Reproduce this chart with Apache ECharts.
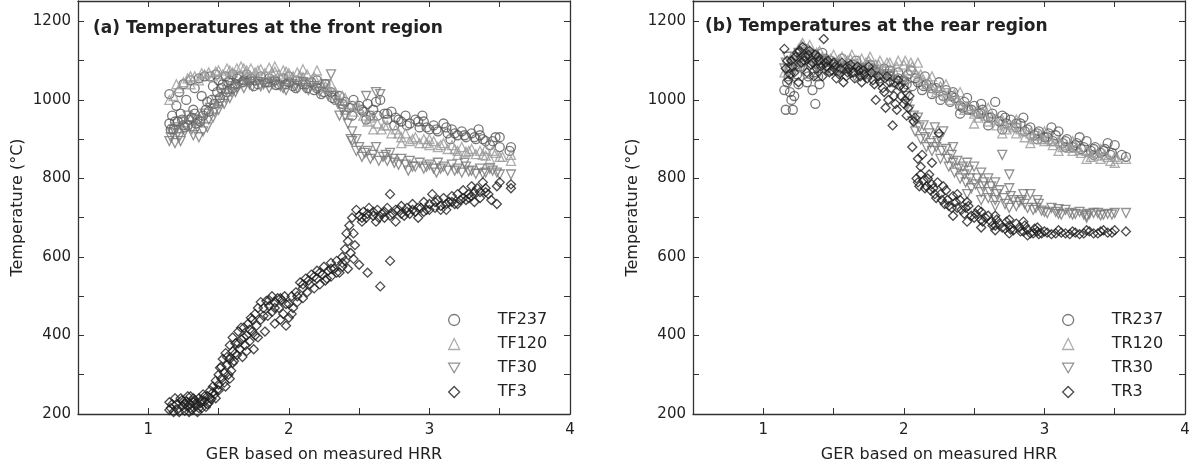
<!DOCTYPE html>
<html>
<head>
<meta charset="utf-8">
<title>Temperatures vs GER</title>
<script src="https://cdn.jsdelivr.net/npm/echarts@6.0.0/dist/echarts.min.js"></script>
<style>
  html, body { margin: 0; padding: 0; background: #fff; }
  #chart { width: 1203px; height: 468px; }
</style>
</head>
<body>
<div id="chart"></div>
<script>
// ---- data (x = GER, y = temperature in °C) ----
var xTicks = [1, 2, 3, 4];
var yTicks = [200, 400, 600, 800, 1000, 1200];

var frontNames = ['TF237', 'TF120', 'TF30', 'TF3'];
var rearNames = ['TR237', 'TR120', 'TR30', 'TR3'];

var TF237 = [[1.15,1015],[1.15,940],[1.17,960],[1.18,925],[1.2,985],[1.21,945],[1.22,1020],[1.24,950],[1.25,1040],[1.26,930],[1.27,1000],[1.28,935],[1.3,1050],[1.31,955],[1.32,975],[1.33,1030],[1.34,940],[1.35,950],[1.36,1055],[1.38,1010],[1.39,960],[1.4,1060],[1.42,995],[1.43,970],[1.44,1060],[1.46,1035],[1.47,990],[1.48,1065],[1.5,1050],[1.51,1005],[1.52,1030],[1.55,1060],[1.56,1020],[1.57,1045],[1.6,1065],[1.62,1040],[1.65,1060],[1.68,1050],[1.7,1065],[1.73,1055],[1.76,1050],[1.8,1060],[1.83,1045],[1.86,1055],[1.9,1050],[1.93,1040],[1.96,1055],[2.0,1045],[2.03,1035],[2.06,1050],[2.1,1040],[2.13,1030],[2.16,1045],[2.2,1030],[2.23,1015],[2.26,1040],[2.3,1020],[2.33,1000],[2.36,1010],[2.4,995],[2.43,980],[2.46,1000],[2.5,985],[2.53,970],[2.56,990],[2.6,975],[2.63,960],[2.65,1000],[2.68,965],[2.7,950],[2.73,970],[2.76,955],[2.8,945],[2.83,960],[2.86,940],[2.9,950],[2.93,930],[2.96,945],[3.0,925],[3.03,935],[3.06,920],[3.1,940],[3.13,915],[3.16,925],[3.2,910],[3.23,920],[3.26,905],[3.3,915],[3.33,900],[3.36,910],[3.4,895],[3.43,885],[3.47,905],[3.5,880],[3.58,880],
  [1.16,925],[1.19,945],[1.23,965],[1.25,935],[1.29,950],[1.33,965],[1.37,945],[1.41,975],[1.45,1000],[1.49,1020],[1.53,1040],[1.58,1050],[1.63,1055],[1.67,1045],[1.72,1050],[1.78,1040],[1.85,1045],[1.91,1038],[1.98,1040],[2.05,1030],[2.12,1040],[2.18,1025],[2.25,1020],[2.31,1005],[2.38,990],[2.45,985],[2.52,975],[2.58,960],[2.62,995],[2.7,965],[2.78,950],[2.84,935],[2.92,945],[2.98,930],[3.05,925],[3.12,930],[3.18,915],[3.25,910],[3.32,905],[3.38,900],[3.45,895],[3.5,905],[3.57,870],
  [1.6,1030],[1.75,1035],[2.0,1060],[2.2,1050],[2.45,960],[2.55,950],[2.75,935],[2.95,960],[3.15,900],[3.35,925]];
var TF120 = [[1.15,1000],[1.18,1010],[1.22,1030],[1.25,1045],[1.28,1055],[1.3,1040],[1.33,1060],[1.36,1050],[1.4,1065],[1.43,1070],[1.46,1060],[1.5,1075],[1.53,1065],[1.56,1080],[1.6,1070],[1.63,1080],[1.66,1085],[1.7,1075],[1.73,1080],[1.76,1070],[1.8,1078],[1.83,1068],[1.86,1082],[1.9,1072],[1.93,1065],[1.96,1075],[2.0,1068],[2.03,1060],[2.06,1070],[2.1,1058],[2.13,1065],[2.16,1050],[2.2,1075],[2.23,1045],[2.26,1035],[2.3,1040],[2.33,1020],[2.36,1000],[2.4,1005],[2.43,990],[2.46,970],[2.5,980],[2.53,960],[2.56,945],[2.6,960],[2.63,940],[2.66,925],[2.7,935],[2.73,915],[2.76,925],[2.8,905],[2.83,915],[2.86,895],[2.9,905],[2.93,890],[2.96,900],[3.0,885],[3.03,895],[3.06,880],[3.1,890],[3.13,875],[3.16,885],[3.2,870],[3.23,880],[3.26,868],[3.3,875],[3.33,862],[3.36,870],[3.4,858],[3.43,850],[3.47,865],[3.5,855],[3.58,845],[3.58,860],
  [1.2,1040],[1.3,1060],[1.38,1068],[1.48,1072],[1.58,1075],[1.68,1080],[1.78,1075],[1.88,1070],[1.98,1072],[2.08,1062],[2.18,1058],[2.28,1030],[2.38,1010],[2.48,985],[2.58,955],[2.68,935],[2.78,915],[2.88,900],[2.98,890],[3.08,885],[3.18,875],[3.28,870],[3.38,860],[3.45,870],[3.52,855],
  [1.7,1060],[1.9,1085],[2.1,1078],[2.4,975],[2.6,925],[2.8,890],[3.0,900],[3.2,860],[3.4,875]];
var TF30 = [[1.15,895],[1.17,915],[1.19,890],[1.2,930],[1.22,905],[1.24,945],[1.26,920],[1.28,960],[1.3,935],[1.32,910],[1.34,950],[1.36,905],[1.38,945],[1.4,965],[1.42,930],[1.44,980],[1.46,955],[1.48,1000],[1.5,975],[1.52,1015],[1.54,990],[1.56,1025],[1.58,1005],[1.6,1035],[1.62,1020],[1.65,1040],[1.68,1030],[1.7,1045],[1.74,1035],[1.78,1045],[1.82,1040],[1.86,1030],[1.9,1045],[1.94,1035],[1.98,1025],[2.02,1040],[2.06,1030],[2.1,1045],[2.14,1025],[2.18,1035],[2.22,1020],[2.26,1040],[2.3,1065],[2.32,1010],[2.35,990],[2.38,975],[2.4,960],[2.42,940],[2.45,920],[2.48,900],[2.5,880],[2.52,855],[2.55,1010],[2.56,870],[2.6,860],[2.62,1020],[2.65,1015],[2.67,855],[2.7,845],[2.72,865],[2.75,840],[2.8,850],[2.83,835],[2.86,845],[2.9,830],[2.93,840],[2.96,825],[3.0,835],[3.03,825],[3.06,840],[3.1,830],[3.13,820],[3.16,835],[3.2,825],[3.23,815],[3.26,830],[3.3,820],[3.33,812],[3.36,825],[3.4,815],[3.45,820],[3.5,810],[3.58,810],
  [1.16,905],[1.18,925],[1.21,915],[1.23,895],[1.27,935],[1.31,925],[1.35,930],[1.39,920],[1.43,950],[1.47,970],[1.51,990],[1.55,1005],[1.59,1020],[1.63,1030],[1.72,1040],[1.8,1035],[1.88,1040],[1.96,1030],[2.04,1035],[2.12,1030],[2.2,1030],[2.28,1010],[2.36,960],[2.44,900],[2.48,870],[2.54,865],[2.58,850],[2.64,845],[2.69,860],[2.74,850],[2.78,835],[2.88,830],[2.98,830],[3.08,825],[3.18,820],[3.28,818],[3.38,812],[3.43,825],[3.48,815],
  [2.45,895],[2.62,880],[2.85,820],[3.05,815],[3.25,840]];
var TF3 = [[1.15,230],[1.16,215],[1.18,205],[1.2,225],[1.21,212],[1.23,240],[1.24,220],[1.25,232],[1.26,208],[1.27,232],[1.28,218],[1.29,205],[1.3,245],[1.3,225],[1.31,210],[1.32,230],[1.33,235],[1.34,220],[1.35,205],[1.36,240],[1.37,228],[1.38,215],[1.39,250],[1.4,232],[1.41,218],[1.42,245],[1.43,228],[1.44,260],[1.45,238],[1.46,270],[1.47,250],[1.48,285],[1.49,262],[1.5,300],[1.5,275],[1.51,318],[1.52,290],[1.53,340],[1.54,305],[1.55,270],[1.55,355],[1.56,325],[1.57,300],[1.58,375],[1.58,340],[1.59,310],[1.6,360],[1.6,395],[1.61,335],[1.62,380],[1.63,350],[1.64,410],[1.65,365],[1.66,390],[1.67,345],[1.68,420],[1.69,375],[1.7,400],[1.71,430],[1.72,385],[1.73,445],[1.74,410],[1.75,365],[1.76,455],[1.77,425],[1.78,395],[1.8,485],[1.8,440],[1.82,470],[1.83,410],[1.84,488],[1.85,450],[1.86,475],[1.88,500],[1.88,460],[1.9,485],[1.9,430],[1.92,495],[1.93,470],[1.94,440],[1.95,490],[1.96,455],[1.97,500],[1.98,425],[2.0,480],[2.0,445],[2.02,500],[2.03,470],[2.05,510],[2.06,485],[2.08,535],[2.1,520],[2.1,495],[2.12,545],[2.13,510],[2.15,530],[2.16,555],[2.18,520],[2.2,545],[2.2,565],[2.22,530],[2.24,555],[2.25,575],[2.27,545],[2.28,565],[2.3,585],[2.3,550],[2.32,570],[2.34,590],[2.36,560],[2.38,600],[2.38,575],[2.4,620],[2.4,590],[2.41,660],[2.42,640],[2.43,680],[2.44,610],[2.45,700],[2.46,660],[2.47,630],[2.48,720],[2.5,705],[2.5,580],[2.52,690],[2.53,715],[2.55,700],[2.56,560],[2.57,725],[2.6,705],[2.62,690],[2.63,720],[2.65,525],[2.66,710],[2.68,700],[2.7,725],[2.72,590],[2.72,760],[2.74,710],[2.76,690],[2.78,720],[2.8,730],[2.82,705],[2.84,725],[2.86,710],[2.88,735],[2.9,715],[2.92,700],[2.94,725],[2.96,740],[2.98,720],[3.0,735],[3.02,760],[3.04,725],[3.06,745],[3.08,730],[3.1,750],[3.12,720],[3.14,740],[3.16,755],[3.18,735],[3.2,760],[3.22,745],[3.24,770],[3.26,745],[3.28,760],[3.3,780],[3.3,755],[3.32,740],[3.34,775],[3.36,765],[3.38,790],[3.4,775],[3.42,760],[3.48,735],[3.48,780],[3.5,790],[3.58,775],[3.58,785],
  [1.15,210],[1.17,225],[1.19,240],[1.22,205],[1.24,235],[1.26,225],[1.28,245],[1.3,215],[1.32,240],[1.34,228],[1.36,215],[1.38,235],[1.4,245],[1.42,225],[1.44,240],[1.46,255],[1.48,240],[1.5,260],[1.52,320],[1.54,280],[1.56,345],[1.58,290],[1.6,330],[1.62,355],[1.64,380],[1.66,420],[1.68,395],[1.7,360],[1.72,415],[1.74,440],[1.76,400],[1.78,470],[1.82,450],[1.86,490],[1.9,470],[1.94,495],[1.98,480],[2.02,455],[2.06,500],[2.1,530],[2.14,540],[2.18,550],[2.22,560],[2.26,540],[2.3,570],[2.34,560],[2.38,585],[2.42,570],[2.46,595],[2.52,700],[2.56,710],[2.6,715],[2.64,700],[2.68,715],[2.72,705],[2.76,720],[2.8,710],[2.84,715],[2.88,720],[2.92,725],[2.96,715],[3.0,720],[3.04,740],[3.08,720],[3.12,735],[3.16,740],[3.2,735],[3.24,750],[3.28,750],[3.32,765],[3.36,750],[3.4,765],[3.44,745]];

var TR237 = [[1.15,1025],[1.16,975],[1.18,1060],[1.2,1000],[1.21,975],[1.23,1090],[1.25,1040],[1.27,1110],[1.3,1130],[1.32,1060],[1.35,1025],[1.37,990],[1.38,1100],[1.4,1040],[1.42,1120],[1.45,1080],[1.48,1100],[1.5,1090],[1.53,1075],[1.56,1105],[1.6,1085],[1.63,1070],[1.66,1100],[1.7,1080],[1.73,1065],[1.76,1090],[1.8,1070],[1.83,1055],[1.86,1080],[1.9,1060],[1.93,1045],[1.96,1070],[2.0,1050],[2.03,1065],[2.06,1035],[2.1,1045],[2.13,1025],[2.16,1040],[2.2,1015],[2.23,1030],[2.26,1000],[2.3,1025],[2.33,995],[2.36,1005],[2.4,985],[2.43,995],[2.46,975],[2.5,985],[2.53,965],[2.56,975],[2.6,955],[2.63,965],[2.65,995],[2.68,945],[2.7,960],[2.73,940],[2.76,950],[2.8,930],[2.83,940],[2.86,920],[2.9,930],[2.93,910],[2.96,920],[3.0,905],[3.03,915],[3.06,895],[3.1,920],[3.13,890],[3.16,900],[3.2,880],[3.23,890],[3.26,875],[3.3,895],[3.33,870],[3.36,880],[3.4,865],[3.43,875],[3.47,860],[3.5,885],[3.58,855],
  [1.17,1045],[1.19,1020],[1.22,1010],[1.24,1065],[1.26,1085],[1.29,1100],[1.31,1045],[1.34,1115],[1.36,1070],[1.39,1060],[1.41,1095],[1.44,1105],[1.47,1075],[1.52,1095],[1.58,1080],[1.64,1090],[1.7,1070],[1.78,1080],[1.84,1065],[1.9,1075],[1.96,1055],[2.02,1040],[2.08,1055],[2.14,1035],[2.2,1030],[2.28,1010],[2.34,1010],[2.42,980],[2.48,975],[2.55,965],[2.62,955],[2.72,955],[2.8,940],[2.88,925],[2.95,915],[3.02,905],[3.08,910],[3.15,895],[3.22,885],[3.28,880],[3.35,875],[3.42,870],[3.48,865],[3.55,860],
  [2.25,1045],[2.35,1020],[2.45,1005],[2.55,990],[2.6,935],[2.7,925],[2.85,955],[2.95,900],[3.05,930],[3.15,880],[3.25,905],[3.35,860],[3.45,890],[2.4,965],[2.15,1060],[2.05,1075]];
var TR120 = [[1.15,1070],[1.2,1100],[1.25,1130],[1.28,1145],[1.3,1120],[1.33,1140],[1.36,1110],[1.4,1125],[1.45,1100],[1.5,1115],[1.53,1095],[1.56,1110],[1.6,1100],[1.63,1115],[1.66,1090],[1.7,1105],[1.73,1095],[1.76,1110],[1.8,1090],[1.83,1100],[1.86,1080],[1.9,1095],[1.93,1075],[1.96,1100],[2.0,1090],[2.03,1075],[2.06,1085],[2.1,1060],[2.13,1050],[2.16,1040],[2.2,1030],[2.23,1020],[2.26,1035],[2.3,1010],[2.33,1000],[2.36,1015],[2.4,990],[2.43,975],[2.46,985],[2.5,965],[2.53,955],[2.56,970],[2.6,945],[2.63,955],[2.66,935],[2.7,950],[2.73,925],[2.76,935],[2.8,915],[2.83,925],[2.86,905],[2.9,915],[2.93,900],[2.96,910],[3.0,895],[3.03,900],[3.06,885],[3.1,895],[3.13,880],[3.16,885],[3.2,870],[3.23,880],[3.26,865],[3.3,870],[3.33,855],[3.36,865],[3.4,850],[3.43,860],[3.47,845],[3.5,855],[3.58,850],
  [1.18,1085],[1.22,1115],[1.27,1140],[1.32,1130],[1.38,1120],[1.42,1110],[1.48,1105],[1.55,1100],[1.62,1105],[1.68,1100],[1.75,1100],[1.82,1090],[1.88,1095],[1.95,1085],[2.01,1100],[2.05,1095],[2.08,1070],[2.12,1065],[2.18,1050],[2.25,1025],[2.32,1015],[2.38,1000],[2.45,980],[2.52,970],[2.58,960],[2.65,950],[2.72,940],[2.78,930],[2.85,920],[2.92,910],[2.98,900],[3.05,895],[3.12,890],[3.18,878],[3.25,872],[3.32,868],[3.38,858],[3.45,855],[3.52,850],
  [2.1,1095],[2.2,1060],[2.3,1040],[2.4,1020],[2.5,940],[2.6,980],[2.7,915],[2.8,950],[2.9,890],[3.0,920],[3.1,870],[3.2,895],[3.3,850],[3.4,875],[3.5,840]];
var TR30 = [[1.15,1080],[1.17,1110],[1.2,1060],[1.22,1095],[1.25,1120],[1.28,1075],[1.3,1105],[1.33,1085],[1.36,1115],[1.4,1070],[1.43,1095],[1.46,1080],[1.5,1090],[1.55,1070],[1.6,1085],[1.65,1060],[1.7,1080],[1.75,1065],[1.8,1070],[1.85,1055],[1.9,1060],[1.95,1040],[2.0,1045],[2.02,1010],[2.04,975],[2.06,945],[2.08,920],[2.1,955],[2.12,900],[2.14,935],[2.16,880],[2.18,915],[2.2,870],[2.22,930],[2.24,895],[2.26,850],[2.28,920],[2.3,875],[2.32,830],[2.34,860],[2.36,815],[2.38,845],[2.4,800],[2.42,830],[2.44,790],[2.46,820],[2.48,775],[2.5,830],[2.52,800],[2.55,765],[2.57,790],[2.6,750],[2.62,780],[2.65,745],[2.68,770],[2.7,860],[2.72,735],[2.75,810],[2.76,755],[2.8,730],[2.84,745],[2.88,725],[2.9,760],[2.92,720],[2.96,735],[3.0,715],[3.05,725],[3.1,710],[3.15,720],[3.2,708],[3.25,715],[3.3,705],[3.35,712],[3.4,706],[3.45,710],[3.5,712],[3.58,712],
  [1.16,1095],[1.19,1075],[1.24,1100],[1.27,1090],[1.32,1110],[1.35,1095],[1.38,1085],[1.42,1100],[1.48,1090],[1.52,1075],[1.58,1080],[1.62,1070],[1.68,1075],[1.72,1060],[1.78,1075],[1.82,1060],[1.88,1065],[1.92,1050],[1.98,1035],[2.03,990],[2.07,960],[2.11,930],[2.15,905],[2.19,890],[2.23,880],[2.27,870],[2.31,850],[2.35,840],[2.39,825],[2.43,810],[2.47,800],[2.51,785],[2.56,780],[2.61,765],[2.66,760],[2.71,750],[2.78,745],[2.82,740],[2.86,735],[2.94,725],[2.98,718],[3.02,712],[3.08,715],[3.12,708],[3.18,712],[3.22,710],[3.28,708],[3.32,710],[3.38,712],[3.42,708],[3.48,708],
  [2.25,905],[2.35,880],[2.45,840],[2.55,815],[2.6,800],[2.65,790],[2.75,775],[2.85,760],[2.95,745],[2.45,760],[2.55,745],[2.65,730],[2.75,725],[3.1,722],[3.3,700]];
var TR3 = [[1.15,1130],[1.16,1080],[1.18,1050],[1.2,1100],[1.22,1070],[1.24,1120],[1.25,1045],[1.27,1095],[1.28,1135],[1.3,1110],[1.31,1070],[1.33,1125],[1.34,1090],[1.36,1060],[1.37,1115],[1.38,1080],[1.4,1100],[1.42,1060],[1.43,1155],[1.45,1085],[1.47,1070],[1.5,1095],[1.52,1055],[1.55,1080],[1.57,1045],[1.6,1070],[1.62,1090],[1.65,1055],[1.68,1075],[1.7,1045],[1.72,1065],[1.75,1085],[1.78,1050],[1.8,1000],[1.82,1060],[1.85,1030],[1.87,980],[1.9,1045],[1.92,935],[1.93,1010],[1.95,975],[1.97,1035],[2.0,990],[2.02,960],[2.04,1010],[2.06,880],[2.08,955],[2.1,850],[2.1,790],[2.12,810],[2.13,860],[2.15,775],[2.17,800],[2.2,785],[2.2,840],[2.22,760],[2.24,790],[2.25,915],[2.27,745],[2.3,770],[2.32,730],[2.35,755],[2.38,725],[2.4,745],[2.43,710],[2.46,730],[2.5,700],[2.53,720],[2.56,690],[2.6,705],[2.63,680],[2.66,695],[2.7,675],[2.73,690],[2.76,670],[2.8,685],[2.83,665],[2.86,680],[2.9,660],[2.93,672],[2.96,658],[3.0,665],[3.05,658],[3.1,668],[3.15,660],[3.2,665],[3.25,658],[3.3,668],[3.35,660],[3.4,665],[3.45,662],[3.5,668],[3.58,665],
  [1.17,1100],[1.19,1065],[1.21,1085],[1.23,1110],[1.26,1125],[1.29,1100],[1.32,1115],[1.35,1095],[1.39,1110],[1.41,1085],[1.44,1095],[1.46,1100],[1.49,1075],[1.51,1085],[1.54,1065],[1.56,1095],[1.59,1060],[1.61,1080],[1.64,1070],[1.67,1085],[1.69,1060],[1.71,1075],[1.74,1055],[1.77,1070],[1.79,1040],[1.83,1045],[1.86,1020],[1.89,1000],[1.91,1030],[1.94,990],[1.98,1010],[2.01,1000],[2.03,980],[2.07,945],[2.09,800],[2.11,780],[2.14,795],[2.16,780],[2.19,770],[2.21,775],[2.23,750],[2.26,760],[2.29,735],[2.31,745],[2.34,725],[2.37,740],[2.41,720],[2.44,725],[2.48,705],[2.51,710],[2.55,695],[2.58,700],[2.62,690],[2.65,680],[2.68,685],[2.72,672],[2.75,680],[2.78,668],[2.82,675],[2.85,665],[2.88,670],[2.92,660],[2.95,665],[2.98,660],[3.02,662],[3.08,660],[3.12,662],[3.18,658],[3.22,662],[3.28,660],[3.32,665],[3.38,660],[3.42,668],[3.48,662],
  [2.12,830],[2.18,810],[2.28,780],[2.38,760],[2.45,740],[2.55,715],[2.65,705],[2.75,695],[2.85,690],[2.95,675],[2.35,705],[2.45,690],[2.55,675],[2.65,668],[2.75,660],[2.88,655],[1.88,1060],[1.96,1050],[2.0,1030]];

var chart = echarts.init(document.getElementById('chart'));

var FONT = 'DejaVu Sans';
var INK = '#222';
var DOWN_TRI = 'path://M0,0L10,0L5,8.7Z';

// hollow marker look for each of the four probes
var markStyle = [
  { symbol: 'circle',   rotate: 0,   icon: 'circle',   color: '#555' },
  { symbol: 'triangle', rotate: 0,   icon: 'triangle', color: '#9a9a9a' },
  { symbol: 'triangle', rotate: 180, icon: DOWN_TRI,   color: '#777' },
  { symbol: 'diamond',  rotate: 0,   icon: 'diamond',  color: '#1e1e1e' }
];

function xAxisFor(grid, pos) {
  var bottom = pos === 'bottom';
  return {
    type: 'value', gridIndex: grid, position: pos,
    min: 0.5, max: 4, interval: 0.5,
    name: bottom ? 'GER based on measured HRR' : '',
    nameLocation: 'middle', nameGap: 33,
    nameTextStyle: { fontFamily: FONT, fontSize: 16, color: INK },
    axisLine: { show: true, onZero: false, lineStyle: { color: '#333', width: 1.3 } },
    axisTick: { show: true, inside: true, length: 6, lineStyle: { color: '#333' } },
    axisLabel: {
      show: bottom, margin: 9, fontFamily: FONT, fontSize: 15, color: INK,
      formatter: function (v) { return xTicks.indexOf(v) >= 0 ? String(v) : ''; }
    },
    splitLine: { show: false }
  };
}

function yAxisFor(grid, pos) {
  var left = pos === 'left';
  return {
    type: 'value', gridIndex: grid, position: pos,
    min: 200, max: 1252, interval: 100,
    name: left ? 'Temperature (°C)' : '',
    nameLocation: 'middle', nameGap: 52,
    nameTextStyle: { fontFamily: FONT, fontSize: 16, color: INK },
    axisLine: { show: true, onZero: false, lineStyle: { color: '#333', width: 1.3 } },
    axisTick: { show: true, inside: true, length: 6, lineStyle: { color: '#333' } },
    axisLabel: {
      show: left, margin: 7, fontFamily: FONT, fontSize: 15, color: INK,
      showMaxLabel: false,
      formatter: function (v) { return yTicks.indexOf(v) >= 0 ? String(v) : ''; }
    },
    splitLine: { show: false }
  };
}

function makeSeries(names, sets, axisIdx) {
  var out = [];
  for (var i = 0; i < names.length; i++) {
    out.push({
      name: names[i],
      type: 'scatter',
      xAxisIndex: axisIdx,
      yAxisIndex: axisIdx,
      symbol: markStyle[i].symbol,
      symbolRotate: markStyle[i].rotate,
      symbolSize: 9,
      data: sets[i],
      itemStyle: {
        color: 'rgba(255,255,255,0)',
        borderColor: markStyle[i].color,
        borderWidth: 1.3
      },
      emphasis: { disabled: true }
    });
  }
  return out;
}

function legendFor(names, left) {
  var items = names.map(function (n, i) { return { name: n, icon: markStyle[i].icon }; });
  return {
    data: items,
    orient: 'vertical',
    left: left, top: 307,
    itemWidth: 11, itemHeight: 11, itemGap: 8,
    itemStyle: { color: 'rgba(255,255,255,0)', borderWidth: 1.3 },
    textStyle: { fontFamily: FONT, fontSize: 16, color: INK, lineHeight: 16, padding: [0, 0, 0, 33] },
    selectedMode: false
  };
}

chart.setOption({
  animation: false,
  backgroundColor: '#fff',
  title: [
    { text: '(a) Temperatures at the front region', left: 88, top: 15,
      textStyle: { fontFamily: FONT, fontSize: 17, fontWeight: 'bold', color: INK } },
    { text: '(b) Temperatures at the rear region', left: 700, top: 13,
      textStyle: { fontFamily: FONT, fontSize: 17, fontWeight: 'bold', color: INK } }
  ],
  grid: [
    { left: 78, right: 633, top: 1, bottom: 48 },
    { left: 693, right: 18, top: 1, bottom: 48 }
  ],
  xAxis: [xAxisFor(0, 'bottom'), xAxisFor(0, 'top'), xAxisFor(1, 'bottom'), xAxisFor(1, 'top')],
  yAxis: [yAxisFor(0, 'left'), yAxisFor(0, 'right'), yAxisFor(1, 'left'), yAxisFor(1, 'right')],
  legend: [legendFor(frontNames, 443), legendFor(rearNames, 1057)],
  series: makeSeries(frontNames, [TF237, TF120, TF30, TF3], 0)
    .concat(makeSeries(rearNames, [TR237, TR120, TR30, TR3], 2))
});
</script>
</body>
</html>
